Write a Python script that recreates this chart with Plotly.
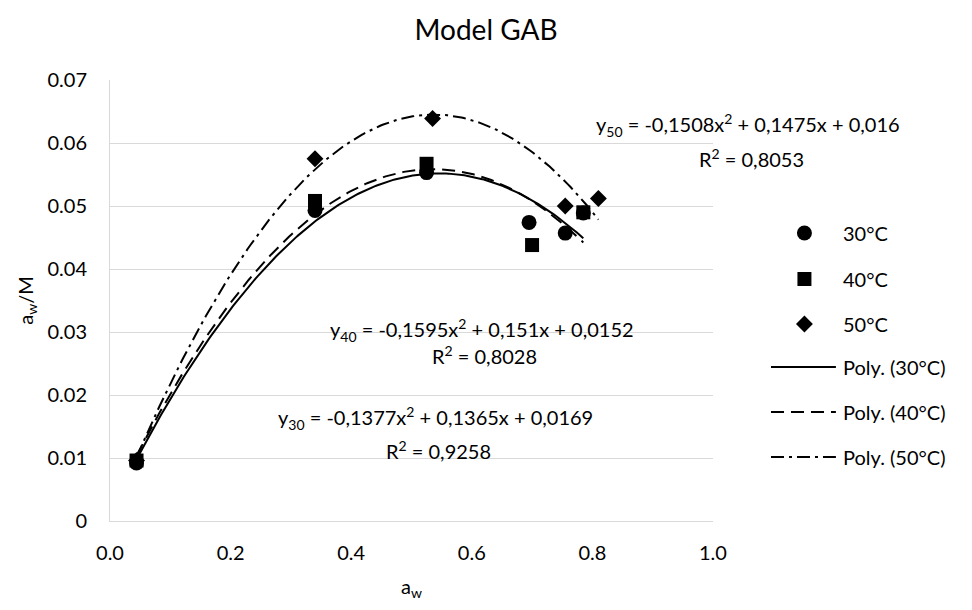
import numpy as np
import plotly.graph_objects as go

# Sorption data: water activity vs a_w/M for three temperatures
aw_30 = [0.044, 0.340, 0.525, 0.695, 0.755, 0.785]
m_30 = [0.0092, 0.0493, 0.0553, 0.0474, 0.0457, 0.0489]

aw_40 = [0.044, 0.340, 0.525, 0.700, 0.785]
m_40 = [0.0096, 0.0508, 0.0567, 0.0438, 0.0490]

aw_50 = [0.044, 0.340, 0.535, 0.755, 0.810]
m_50 = [0.0096, 0.0575, 0.0639, 0.0500, 0.0512]

series_names = ["30°C", "40°C", "50°C"]
trend_names = ["Poly. (30°C)", "Poly. (40°C)", "Poly. (50°C)"]

eq_texts = [
    "y<sub>30</sub> = -0,1377x<sup>2</sup> + 0,1365x + 0,0169",
    "y<sub>40</sub> = -0,1595x<sup>2</sup> + 0,151x + 0,0152",
    "y<sub>50</sub> = -0,1508x<sup>2</sup> + 0,1475x + 0,016",
]
r2_texts = ["R<sup>2</sup> = 0,9258", "R<sup>2</sup> = 0,8028", "R<sup>2</sup> = 0,8053"]

y_ticks = [0, 0.01, 0.02, 0.03, 0.04, 0.05, 0.06, 0.07]
y_tick_text = ["0", "0.01", "0.02", "0.03", "0.04", "0.05", "0.06", "0.07"]
x_ticks = [0.0, 0.2, 0.4, 0.6, 0.8, 1.0]
x_tick_text = ["0.0", "0.2", "0.4", "0.6", "0.8", "1.0"]

FONT = "Lato"
INK = "black"
GRID = "#d9d9d9"
TXT = 20

symbols = ["circle", "square", "diamond"]
sizes = [15, 14, 13]
dashes = ["solid", "13px,7px", "13px,5px,3px,5px"]

fig = go.Figure()

data = [(aw_30, m_30), (aw_40, m_40), (aw_50, m_50)]

# Measured points
for (xv, yv), name, sym, sz in zip(data, series_names, symbols, sizes):
    fig.add_trace(go.Scatter(
        x=xv, y=yv, mode="markers", name=name, showlegend=False,
        marker=dict(symbol=sym, size=sz, color=INK, line=dict(width=0)),
        xaxis="x", yaxis="y",
    ))

# Second-order polynomial trendlines fitted to each series
for (xv, yv), name, dash in zip(data, trend_names, dashes):
    coef = np.polyfit(xv, yv, 2)
    xs = np.linspace(min(xv), max(xv), 200)
    fig.add_trace(go.Scatter(
        x=xs, y=np.polyval(coef, xs), mode="lines", name=name, showlegend=False,
        line=dict(color=INK, width=2, dash=dash),
        xaxis="x", yaxis="y",
    ))

# Hand-built legend drawn on a helper axis laid out in pixel units
leg_y_marker = [233, 279, 324]
leg_y_line = [367, 412, 457]
for yy, sym, sz in zip(leg_y_marker, symbols, sizes):
    fig.add_trace(go.Scatter(
        x=[816], y=[yy], mode="markers", showlegend=False, hoverinfo="skip",
        marker=dict(symbol=sym, size=sz, color=INK),
        xaxis="x2", yaxis="y2",
    ))
for yy, dash in zip(leg_y_line, dashes):
    fig.add_trace(go.Scatter(
        x=[782, 848], y=[yy, yy], mode="lines", showlegend=False, hoverinfo="skip",
        line=dict(color=INK, width=2, dash=dash),
        xaxis="x2", yaxis="y2",
    ))

annotations = []
for yy, txt in zip(leg_y_marker + leg_y_line, series_names + trend_names):
    annotations.append(dict(
        x=853, y=yy, xref="x2", yref="y2", text=txt, showarrow=False,
        xanchor="left", yanchor="middle", font=dict(family=FONT, size=TXT, color=INK),
    ))

# Trendline equation labels (data coordinates)
eq_pos = [(0.2747, 0.01635), (0.362, 0.03032), (0.8028, 0.06286)]
r2_pos = [(0.454, 0.01127), (0.5306, 0.02635), (0.974, 0.05762)]
for (ex, ey), etxt, (rx, ry), rtxt in zip(eq_pos, eq_texts, r2_pos, r2_texts):
    annotations.append(dict(
        x=ex, y=ey, xref="x", yref="y", text=etxt, showarrow=False,
        xanchor="left", yanchor="middle", font=dict(family=FONT, size=TXT, color=INK),
    ))
    annotations.append(dict(
        x=rx, y=ry, xref="x", yref="y", text=rtxt, showarrow=False,
        xanchor="left", yanchor="middle", font=dict(family=FONT, size=TXT, color=INK),
    ))

W, H = 972, 610
ML, MR, MT, MB = 110, 8, 80, 89
plot_w = W - ML - MR
main_right = (723 - ML) / plot_w
leg_left = (775 - ML) / plot_w

fig.update_layout(
    width=W, height=H,
    margin=dict(l=ML, r=MR, t=MT, b=MB),
    paper_bgcolor="white", plot_bgcolor="white",
    font=dict(family=FONT, size=TXT, color=INK),
    title=dict(text="Model GAB", x=0.5, xref="container", xanchor="center",
               y=1 - 30 / H, yref="container", yanchor="middle",
               font=dict(family=FONT, size=28, color=INK)),
    xaxis=dict(
        domain=[0, main_right], range=[0, 1], tickvals=x_ticks, ticktext=x_tick_text,
        showgrid=False, zeroline=False, showline=True, linecolor=GRID, linewidth=1,
        ticks="", ticklabelstandoff=14, tickfont=dict(family=FONT, size=TXT, color=INK),
        title=dict(text="a<sub>w</sub>", font=dict(family=FONT, size=TXT, color=INK), standoff=16),
    ),
    yaxis=dict(
        domain=[0, 1], range=[0, 0.07], tickvals=y_ticks, ticktext=y_tick_text,
        showgrid=True, gridcolor=GRID, gridwidth=1, zeroline=False,
        showline=True, linecolor=GRID, linewidth=1,
        ticks="", ticklabelstandoff=18, tickfont=dict(family=FONT, size=TXT, color=INK),
        title=dict(text="a<sub>w</sub>/M", font=dict(family=FONT, size=TXT, color=INK), standoff=8),
    ),
    xaxis2=dict(domain=[leg_left, 1], range=[775, 964], visible=False, anchor="y2"),
    yaxis2=dict(domain=[0, 1], range=[521, 80], visible=False, anchor="x2"),
    annotations=annotations,
)

fig.write_html("out.html")
